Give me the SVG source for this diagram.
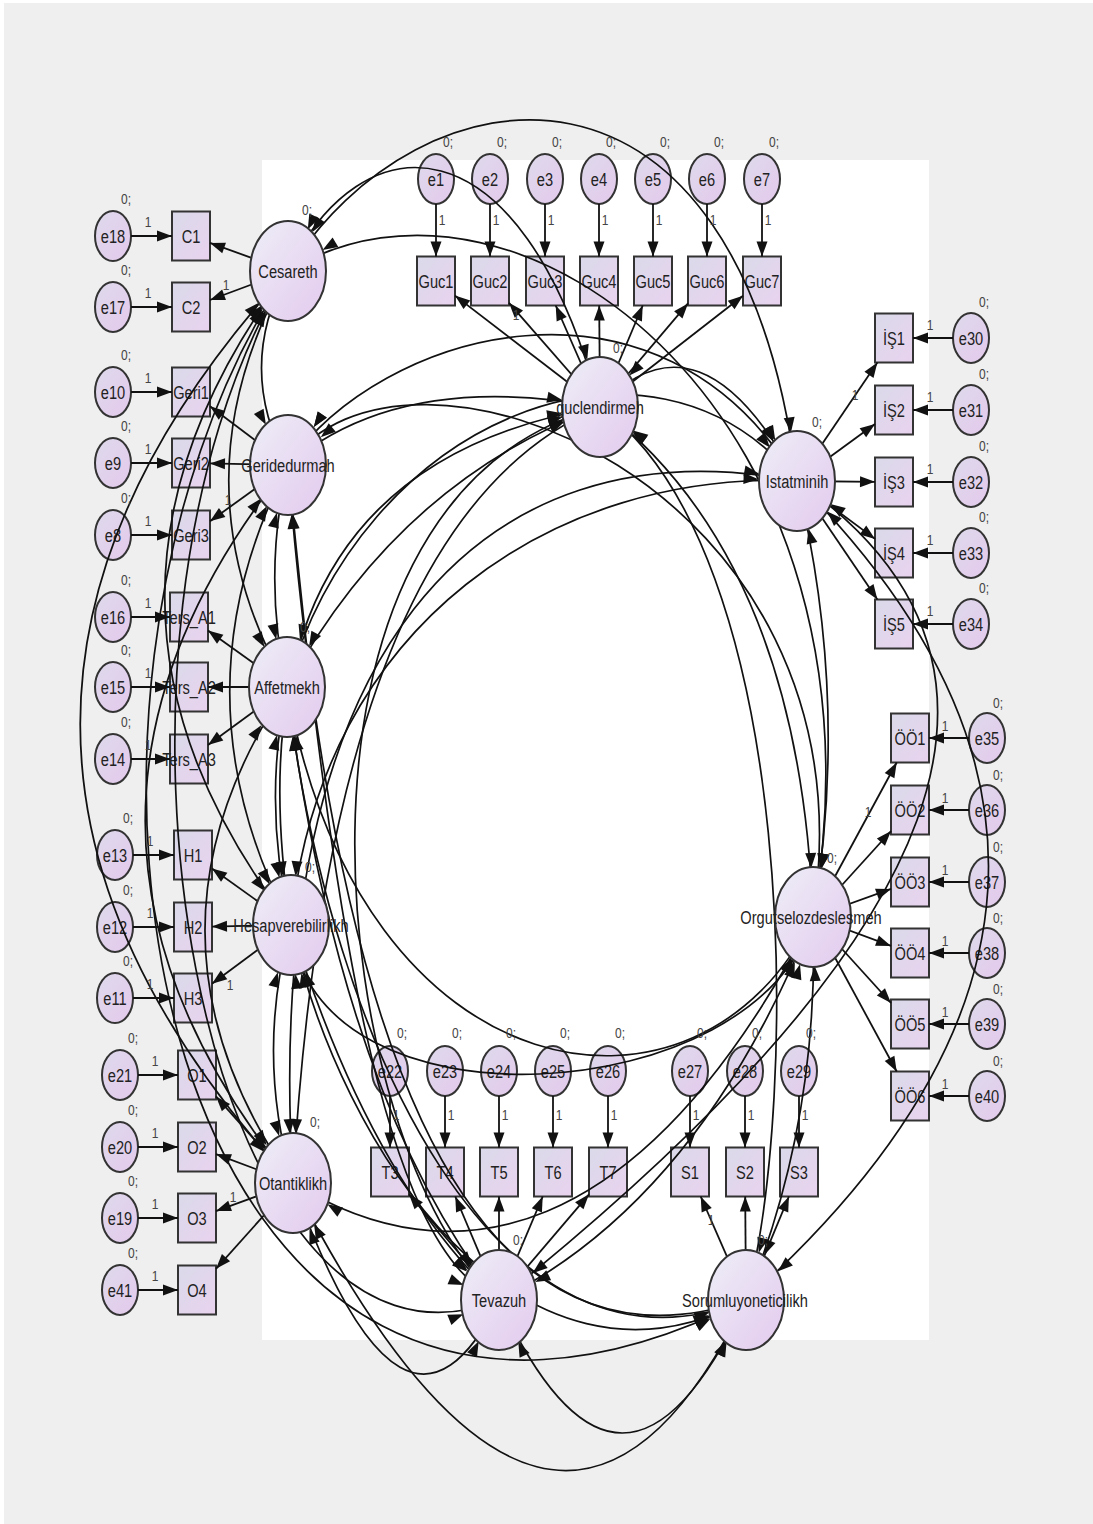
<svg xmlns="http://www.w3.org/2000/svg" width="1093" height="1524" viewBox="0 0 1093 1524">
<defs>
<linearGradient id="gL" x1="0" y1="0" x2="1" y2="1"><stop offset="0" stop-color="#eeeef7"/><stop offset="1" stop-color="#e3caee"/></linearGradient>
<linearGradient id="gE" x1="0" y1="0" x2="1" y2="1"><stop offset="0" stop-color="#dedaec"/><stop offset="1" stop-color="#e4c9ec"/></linearGradient>
<linearGradient id="gR" x1="0" y1="0" x2="1" y2="1"><stop offset="0" stop-color="#dadaea"/><stop offset="1" stop-color="#e9d2ee"/></linearGradient>
<marker id="ar" markerUnits="userSpaceOnUse" markerWidth="1" markerHeight="1" refX="0" refY="0" orient="auto" overflow="visible"><path d="M0 0 L-15 -5.5 L-15 5.5 Z" fill="#111"/></marker>
<marker id="m38" markerUnits="userSpaceOnUse" markerWidth="1" markerHeight="1" refX="38.5" refY="0" orient="auto-start-reverse" overflow="visible"><path d="M0 0 L-15 -5.5 L-15 5.5 Z" fill="#111"/></marker>
<marker id="m40" markerUnits="userSpaceOnUse" markerWidth="1" markerHeight="1" refX="40.5" refY="0" orient="auto-start-reverse" overflow="visible"><path d="M0 0 L-15 -5.5 L-15 5.5 Z" fill="#111"/></marker>
<marker id="m43" markerUnits="userSpaceOnUse" markerWidth="1" markerHeight="1" refX="43" refY="0" orient="auto-start-reverse" overflow="visible"><path d="M0 0 L-15 -5.5 L-15 5.5 Z" fill="#111"/></marker>
<marker id="m46" markerUnits="userSpaceOnUse" markerWidth="1" markerHeight="1" refX="46" refY="0" orient="auto-start-reverse" overflow="visible"><path d="M0 0 L-15 -5.5 L-15 5.5 Z" fill="#111"/></marker>
<marker id="m49" markerUnits="userSpaceOnUse" markerWidth="1" markerHeight="1" refX="49" refY="0" orient="auto-start-reverse" overflow="visible"><path d="M0 0 L-15 -5.5 L-15 5.5 Z" fill="#111"/></marker>
</defs>
<style>
.cv{fill:none;stroke:#111;stroke-width:1.7}
.ld{fill:none;stroke:#111;stroke-width:1.8;marker-end:url(#ar)}
.lat{fill:url(#gL);stroke:#333;stroke-width:2}
.err{fill:url(#gE);stroke:#333;stroke-width:2}
.ind{fill:url(#gR);stroke:#333;stroke-width:2}
.t{font-family:"Liberation Sans",Arial,sans-serif;font-size:19px;fill:#222;text-anchor:middle}
.s{font-family:"Liberation Sans",Arial,sans-serif;font-size:15px;fill:#444;text-anchor:middle}
</style>
<rect x="0" y="0" width="1093" height="1524" fill="#ffffff"/>
<rect x="4" y="3" width="1089" height="1521" fill="#efefef"/>
<rect x="262" y="160" width="667" height="1180" fill="#ffffff"/>

<g id="C1"><rect class="ind" x="172" y="211.5" width="38" height="49"/><text class="t" transform="matrix(.77 0 0 1 191 243)">C1</text></g>
<g id="C2"><rect class="ind" x="172" y="282.5" width="38" height="49"/><text class="t" transform="matrix(.77 0 0 1 191 314)">C2</text></g>
<g id="Geri1"><rect class="ind" x="172" y="367.5" width="38" height="49"/><text class="t" transform="matrix(.77 0 0 1 191 399)">Geri1</text></g>
<g id="Geri2"><rect class="ind" x="172" y="438.5" width="38" height="49"/><text class="t" transform="matrix(.77 0 0 1 191 470)">Geri2</text></g>
<g id="Geri3"><rect class="ind" x="172" y="510.5" width="38" height="49"/><text class="t" transform="matrix(.77 0 0 1 191 542)">Geri3</text></g>
<g id="Ters_A1"><rect class="ind" x="170" y="592.5" width="38" height="49"/><text class="t" transform="matrix(.77 0 0 1 189 624)">Ters_A1</text></g>
<g id="Ters_A2"><rect class="ind" x="170" y="662.5" width="38" height="49"/><text class="t" transform="matrix(.77 0 0 1 189 694)">Ters_A2</text></g>
<g id="Ters_A3"><rect class="ind" x="170" y="734.5" width="38" height="49"/><text class="t" transform="matrix(.77 0 0 1 189 766)">Ters_A3</text></g>
<g id="H1"><rect class="ind" x="174" y="830.5" width="38" height="49"/><text class="t" transform="matrix(.77 0 0 1 193 862)">H1</text></g>
<g id="H2"><rect class="ind" x="174" y="902.5" width="38" height="49"/><text class="t" transform="matrix(.77 0 0 1 193 934)">H2</text></g>
<g id="H3"><rect class="ind" x="174" y="973.5" width="38" height="49"/><text class="t" transform="matrix(.77 0 0 1 193 1005)">H3</text></g>
<g id="O1"><rect class="ind" x="178" y="1050.5" width="38" height="49"/><text class="t" transform="matrix(.77 0 0 1 197 1082)">O1</text></g>
<g id="O2"><rect class="ind" x="178" y="1122.5" width="38" height="49"/><text class="t" transform="matrix(.77 0 0 1 197 1154)">O2</text></g>
<g id="O3"><rect class="ind" x="178" y="1193.5" width="38" height="49"/><text class="t" transform="matrix(.77 0 0 1 197 1225)">O3</text></g>
<g id="O4"><rect class="ind" x="178" y="1265.5" width="38" height="49"/><text class="t" transform="matrix(.77 0 0 1 197 1297)">O4</text></g>

<g id="e18"><ellipse class="err" cx="113" cy="236" rx="18" ry="25"/><text class="t" transform="matrix(.77 0 0 1 113 243)">e18</text></g>
<g id="e17"><ellipse class="err" cx="113" cy="307" rx="18" ry="25"/><text class="t" transform="matrix(.77 0 0 1 113 314)">e17</text></g>
<g id="e10"><ellipse class="err" cx="113" cy="392" rx="18" ry="25"/><text class="t" transform="matrix(.77 0 0 1 113 399)">e10</text></g>
<g id="e9"><ellipse class="err" cx="113" cy="463" rx="18" ry="25"/><text class="t" transform="matrix(.77 0 0 1 113 470)">e9</text></g>
<g id="e8"><ellipse class="err" cx="113" cy="535" rx="18" ry="25"/><text class="t" transform="matrix(.77 0 0 1 113 542)">e8</text></g>
<g id="e16"><ellipse class="err" cx="113" cy="617" rx="18" ry="25"/><text class="t" transform="matrix(.77 0 0 1 113 624)">e16</text></g>
<g id="e15"><ellipse class="err" cx="113" cy="687" rx="18" ry="25"/><text class="t" transform="matrix(.77 0 0 1 113 694)">e15</text></g>
<g id="e14"><ellipse class="err" cx="113" cy="759" rx="18" ry="25"/><text class="t" transform="matrix(.77 0 0 1 113 766)">e14</text></g>
<g id="e13"><ellipse class="err" cx="115" cy="855" rx="18" ry="25"/><text class="t" transform="matrix(.77 0 0 1 115 862)">e13</text></g>
<g id="e12"><ellipse class="err" cx="115" cy="927" rx="18" ry="25"/><text class="t" transform="matrix(.77 0 0 1 115 934)">e12</text></g>
<g id="e11"><ellipse class="err" cx="115" cy="998" rx="18" ry="25"/><text class="t" transform="matrix(.77 0 0 1 115 1005)">e11</text></g>
<g id="e21"><ellipse class="err" cx="120" cy="1075" rx="18" ry="25"/><text class="t" transform="matrix(.77 0 0 1 120 1082)">e21</text></g>
<g id="e20"><ellipse class="err" cx="120" cy="1147" rx="18" ry="25"/><text class="t" transform="matrix(.77 0 0 1 120 1154)">e20</text></g>
<g id="e19"><ellipse class="err" cx="120" cy="1218" rx="18" ry="25"/><text class="t" transform="matrix(.77 0 0 1 120 1225)">e19</text></g>
<g id="e41"><ellipse class="err" cx="120" cy="1290" rx="18" ry="25"/><text class="t" transform="matrix(.77 0 0 1 120 1297)">e41</text></g>

<g id="Guc1"><rect class="ind" x="417" y="256.5" width="38" height="49"/><text class="t" transform="matrix(.77 0 0 1 436 288)">Guc1</text></g>
<g id="Guc2"><rect class="ind" x="471" y="256.5" width="38" height="49"/><text class="t" transform="matrix(.77 0 0 1 490 288)">Guc2</text></g>
<g id="Guc3"><rect class="ind" x="526" y="256.5" width="38" height="49"/><text class="t" transform="matrix(.77 0 0 1 545 288)">Guc3</text></g>
<g id="Guc4"><rect class="ind" x="580" y="256.5" width="38" height="49"/><text class="t" transform="matrix(.77 0 0 1 599 288)">Guc4</text></g>
<g id="Guc5"><rect class="ind" x="634" y="256.5" width="38" height="49"/><text class="t" transform="matrix(.77 0 0 1 653 288)">Guc5</text></g>
<g id="Guc6"><rect class="ind" x="688" y="256.5" width="38" height="49"/><text class="t" transform="matrix(.77 0 0 1 707 288)">Guc6</text></g>
<g id="Guc7"><rect class="ind" x="743" y="256.5" width="38" height="49"/><text class="t" transform="matrix(.77 0 0 1 762 288)">Guc7</text></g>
<g id="e1"><ellipse class="err" cx="436" cy="179" rx="18" ry="25"/><text class="t" transform="matrix(.77 0 0 1 436 186)">e1</text></g>
<g id="e2"><ellipse class="err" cx="490" cy="179" rx="18" ry="25"/><text class="t" transform="matrix(.77 0 0 1 490 186)">e2</text></g>
<g id="e3"><ellipse class="err" cx="545" cy="179" rx="18" ry="25"/><text class="t" transform="matrix(.77 0 0 1 545 186)">e3</text></g>
<g id="e4"><ellipse class="err" cx="599" cy="179" rx="18" ry="25"/><text class="t" transform="matrix(.77 0 0 1 599 186)">e4</text></g>
<g id="e5"><ellipse class="err" cx="653" cy="179" rx="18" ry="25"/><text class="t" transform="matrix(.77 0 0 1 653 186)">e5</text></g>
<g id="e6"><ellipse class="err" cx="707" cy="179" rx="18" ry="25"/><text class="t" transform="matrix(.77 0 0 1 707 186)">e6</text></g>
<g id="e7"><ellipse class="err" cx="762" cy="179" rx="18" ry="25"/><text class="t" transform="matrix(.77 0 0 1 762 186)">e7</text></g>

<g id="IS1"><rect class="ind" x="875" y="313.5" width="38" height="49"/><text class="t" transform="matrix(.77 0 0 1 894 345)">İŞ1</text></g>
<g id="IS2"><rect class="ind" x="875" y="385.5" width="38" height="49"/><text class="t" transform="matrix(.77 0 0 1 894 417)">İŞ2</text></g>
<g id="IS3"><rect class="ind" x="875" y="457.5" width="38" height="49"/><text class="t" transform="matrix(.77 0 0 1 894 489)">İŞ3</text></g>
<g id="IS4"><rect class="ind" x="875" y="528.5" width="38" height="49"/><text class="t" transform="matrix(.77 0 0 1 894 560)">İŞ4</text></g>
<g id="IS5"><rect class="ind" x="875" y="599.5" width="38" height="49"/><text class="t" transform="matrix(.77 0 0 1 894 631)">İŞ5</text></g>
<g id="e30"><ellipse class="err" cx="971" cy="338" rx="18" ry="25"/><text class="t" transform="matrix(.77 0 0 1 971 345)">e30</text></g>
<g id="e31"><ellipse class="err" cx="971" cy="410" rx="18" ry="25"/><text class="t" transform="matrix(.77 0 0 1 971 417)">e31</text></g>
<g id="e32"><ellipse class="err" cx="971" cy="482" rx="18" ry="25"/><text class="t" transform="matrix(.77 0 0 1 971 489)">e32</text></g>
<g id="e33"><ellipse class="err" cx="971" cy="553" rx="18" ry="25"/><text class="t" transform="matrix(.77 0 0 1 971 560)">e33</text></g>
<g id="e34"><ellipse class="err" cx="971" cy="624" rx="18" ry="25"/><text class="t" transform="matrix(.77 0 0 1 971 631)">e34</text></g>

<g id="OO1"><rect class="ind" x="891" y="713.5" width="38" height="49"/><text class="t" transform="matrix(.77 0 0 1 910 745)">ÖÖ1</text></g>
<g id="OO2"><rect class="ind" x="891" y="785.5" width="38" height="49"/><text class="t" transform="matrix(.77 0 0 1 910 817)">ÖÖ2</text></g>
<g id="OO3"><rect class="ind" x="891" y="857.5" width="38" height="49"/><text class="t" transform="matrix(.77 0 0 1 910 889)">ÖÖ3</text></g>
<g id="OO4"><rect class="ind" x="891" y="928.5" width="38" height="49"/><text class="t" transform="matrix(.77 0 0 1 910 960)">ÖÖ4</text></g>
<g id="OO5"><rect class="ind" x="891" y="999.5" width="38" height="49"/><text class="t" transform="matrix(.77 0 0 1 910 1031)">ÖÖ5</text></g>
<g id="OO6"><rect class="ind" x="891" y="1071.5" width="38" height="49"/><text class="t" transform="matrix(.77 0 0 1 910 1103)">ÖÖ6</text></g>
<g id="e35"><ellipse class="err" cx="987" cy="738" rx="18" ry="25"/><text class="t" transform="matrix(.77 0 0 1 987 745)">e35</text></g>
<g id="e36"><ellipse class="err" cx="987" cy="810" rx="18" ry="25"/><text class="t" transform="matrix(.77 0 0 1 987 817)">e36</text></g>
<g id="e37"><ellipse class="err" cx="987" cy="882" rx="18" ry="25"/><text class="t" transform="matrix(.77 0 0 1 987 889)">e37</text></g>
<g id="e38"><ellipse class="err" cx="987" cy="953" rx="18" ry="25"/><text class="t" transform="matrix(.77 0 0 1 987 960)">e38</text></g>
<g id="e39"><ellipse class="err" cx="987" cy="1024" rx="18" ry="25"/><text class="t" transform="matrix(.77 0 0 1 987 1031)">e39</text></g>
<g id="e40"><ellipse class="err" cx="987" cy="1096" rx="18" ry="25"/><text class="t" transform="matrix(.77 0 0 1 987 1103)">e40</text></g>

<g id="T3"><rect class="ind" x="371" y="1147.5" width="38" height="49"/><text class="t" transform="matrix(.77 0 0 1 390 1179)">T3</text></g>
<g id="T4"><rect class="ind" x="426" y="1147.5" width="38" height="49"/><text class="t" transform="matrix(.77 0 0 1 445 1179)">T4</text></g>
<g id="T5"><rect class="ind" x="480" y="1147.5" width="38" height="49"/><text class="t" transform="matrix(.77 0 0 1 499 1179)">T5</text></g>
<g id="T6"><rect class="ind" x="534" y="1147.5" width="38" height="49"/><text class="t" transform="matrix(.77 0 0 1 553 1179)">T6</text></g>
<g id="T7"><rect class="ind" x="589" y="1147.5" width="38" height="49"/><text class="t" transform="matrix(.77 0 0 1 608 1179)">T7</text></g>
<g id="S1"><rect class="ind" x="671" y="1147.5" width="38" height="49"/><text class="t" transform="matrix(.77 0 0 1 690 1179)">S1</text></g>
<g id="S2"><rect class="ind" x="726" y="1147.5" width="38" height="49"/><text class="t" transform="matrix(.77 0 0 1 745 1179)">S2</text></g>
<g id="S3"><rect class="ind" x="780" y="1147.5" width="38" height="49"/><text class="t" transform="matrix(.77 0 0 1 799 1179)">S3</text></g>
<g id="e22"><ellipse class="err" cx="390" cy="1071" rx="18" ry="25"/><text class="t" transform="matrix(.77 0 0 1 390 1078)">e22</text></g>
<g id="e23"><ellipse class="err" cx="445" cy="1071" rx="18" ry="25"/><text class="t" transform="matrix(.77 0 0 1 445 1078)">e23</text></g>
<g id="e24"><ellipse class="err" cx="499" cy="1071" rx="18" ry="25"/><text class="t" transform="matrix(.77 0 0 1 499 1078)">e24</text></g>
<g id="e25"><ellipse class="err" cx="553" cy="1071" rx="18" ry="25"/><text class="t" transform="matrix(.77 0 0 1 553 1078)">e25</text></g>
<g id="e26"><ellipse class="err" cx="608" cy="1071" rx="18" ry="25"/><text class="t" transform="matrix(.77 0 0 1 608 1078)">e26</text></g>
<g id="e27"><ellipse class="err" cx="690" cy="1071" rx="18" ry="25"/><text class="t" transform="matrix(.77 0 0 1 690 1078)">e27</text></g>
<g id="e28"><ellipse class="err" cx="745" cy="1071" rx="18" ry="25"/><text class="t" transform="matrix(.77 0 0 1 745 1078)">e28</text></g>
<g id="e29"><ellipse class="err" cx="799" cy="1071" rx="18" ry="25"/><text class="t" transform="matrix(.77 0 0 1 799 1078)">e29</text></g>

<g id="connectors">
<path class="cv" d="M288 271 C360 120 520 110 600 407" marker-start="url(#m46)" marker-end="url(#m49)"/>
<path class="cv" d="M288 271 C420 60 740 20 797 481" marker-start="url(#m46)" marker-end="url(#m49)"/>
<path class="cv" d="M288 271 C520 130 900 420 813 917" marker-start="url(#m40)" marker-end="url(#m49)"/>
<path class="cv" d="M288 271 C0 700 150 1600 746 1300" marker-start="url(#m46)" marker-end="url(#m40)"/>
<path class="cv" d="M288 271 C60 640 200 1420 499 1300" marker-start="url(#m46)" marker-end="url(#m38)"/>
<path class="cv" d="M288 271 Q-130 727 293 1183" marker-start="url(#m43)" marker-end="url(#m43)"/>
<path class="cv" d="M288 271 Q40 600 291 925" marker-start="url(#m43)" marker-end="url(#m43)"/>
<path class="cv" d="M288 271 Q170 480 287 687" marker-start="url(#m46)" marker-end="url(#m46)"/>
<path class="cv" d="M288 271 Q235 368 288 465" marker-start="url(#m46)" marker-end="url(#m46)"/>
<path class="cv" d="M288 465 Q400 370 600 407" marker-start="url(#m43)" marker-end="url(#m38)"/>
<path class="cv" d="M288 465 C380 330 660 250 797 481" marker-start="url(#m46)" marker-end="url(#m46)"/>
<path class="cv" d="M288 465 C400 300 880 480 813 917" marker-start="url(#m46)" marker-end="url(#m49)"/>
<path class="cv" d="M288 465 C330 1000 450 1400 746 1300" marker-start="url(#m49)" marker-end="url(#m38)"/>
<path class="cv" d="M288 465 C330 900 380 1250 499 1300" marker-start="url(#m49)" marker-end="url(#m38)"/>
<path class="cv" d="M288 465 Q0 824 293 1183" marker-start="url(#m43)" marker-end="url(#m43)"/>
<path class="cv" d="M288 465 Q170 695 291 925" marker-start="url(#m46)" marker-end="url(#m46)"/>
<path class="cv" d="M288 465 Q262 576 287 687" marker-start="url(#m49)" marker-end="url(#m49)"/>
<path class="cv" d="M287 687 Q400 480 600 407" marker-start="url(#m46)" marker-end="url(#m38)"/>
<path class="cv" d="M287 687 C360 420 650 300 797 481" marker-start="url(#m49)" marker-end="url(#m43)"/>
<path class="cv" d="M287 687 C360 1100 700 1150 813 917" marker-start="url(#m49)" marker-end="url(#m46)"/>
<path class="cv" d="M287 687 C330 1050 500 1400 746 1300" marker-start="url(#m49)" marker-end="url(#m40)"/>
<path class="cv" d="M287 687 Q340 1100 499 1300" marker-start="url(#m49)" marker-end="url(#m43)"/>
<path class="cv" d="M287 687 Q120 935 293 1183" marker-start="url(#m46)" marker-end="url(#m46)"/>
<path class="cv" d="M287 687 Q262 806 291 925" marker-start="url(#m49)" marker-end="url(#m49)"/>
<path class="cv" d="M291 925 Q220 470 600 407" marker-start="url(#m49)" marker-end="url(#m38)"/>
<path class="cv" d="M291 925 C320 620 560 470 797 481" marker-start="url(#m49)" marker-end="url(#m38)"/>
<path class="cv" d="M291 925 C310 1140 760 1110 813 917" marker-start="url(#m49)" marker-end="url(#m49)"/>
<path class="cv" d="M291 925 C340 1150 520 1420 746 1300" marker-start="url(#m49)" marker-end="url(#m40)"/>
<path class="cv" d="M291 925 Q370 1180 499 1300" marker-start="url(#m49)" marker-end="url(#m43)"/>
<path class="cv" d="M291 925 Q255 1054 293 1183" marker-start="url(#m49)" marker-end="url(#m49)"/>
<path class="cv" d="M293 1183 Q330 520 600 407" marker-start="url(#m49)" marker-end="url(#m38)"/>
<path class="cv" d="M293 1183 C260 650 480 420 797 481" marker-start="url(#m49)" marker-end="url(#m38)"/>
<path class="cv" d="M293 1183 C450 1280 640 1250 813 917" marker-start="url(#m40)" marker-end="url(#m46)"/>
<path class="cv" d="M293 1183 Q554 1692 746 1300" marker-start="url(#m46)" marker-end="url(#m46)"/>
<path class="cv" d="M293 1183 Q404 1493 499 1300" marker-start="url(#m49)" marker-end="url(#m46)"/>
<path class="cv" d="M499 1300 C330 1150 250 500 600 407" marker-start="url(#m43)" marker-end="url(#m38)"/>
<path class="cv" d="M499 1300 Q1186 750 797 481" marker-start="url(#m43)" marker-end="url(#m40)"/>
<path class="cv" d="M499 1300 Q700 1200 813 917" marker-start="url(#m40)" marker-end="url(#m49)"/>
<path class="cv" d="M499 1300 Q622 1566 746 1300" marker-start="url(#m46)" marker-end="url(#m46)"/>
<path class="cv" d="M746 1300 C800 1100 800 550 600 407" marker-start="url(#m49)" marker-end="url(#m40)"/>
<path class="cv" d="M746 1300 Q1204 890 797 481" marker-start="url(#m43)" marker-end="url(#m43)"/>
<path class="cv" d="M746 1300 Q820 1120 813 917" marker-start="url(#m49)" marker-end="url(#m49)"/>
<path class="cv" d="M813 917 Q800 560 600 407" marker-start="url(#m49)" marker-end="url(#m40)"/>
<path class="cv" d="M813 917 Q850 700 797 481" marker-start="url(#m49)" marker-end="url(#m49)"/>
<path class="cv" d="M600 407 Q700 300 797 481" marker-start="url(#m43)" marker-end="url(#m46)"/>

<path class="ld" d="M288 271 L210 242.9"/>
<path class="ld" d="M288 271 L210 300"/>
<path class="ld" d="M288 465 L210 406.3"/>
<path class="ld" d="M288 465 L210 463.4"/>
<path class="ld" d="M288 465 L210 521.3"/>
<path class="ld" d="M287 687 L208 630.6"/>
<path class="ld" d="M287 687 L208 687"/>
<path class="ld" d="M287 687 L208 745"/>
<path class="ld" d="M291 925 L212 868.6"/>
<path class="ld" d="M291 925 L212 926.6"/>
<path class="ld" d="M291 925 L212 983.8"/>
<path class="ld" d="M293 1183 L216 1096.4"/>
<path class="ld" d="M293 1183 L216 1154.1"/>
<path class="ld" d="M293 1183 L216 1211.1"/>
<path class="ld" d="M293 1183 L216 1268.8"/>
<path class="ld" d="M600 407 L455 295.6"/>
<path class="ld" d="M600 407 L509 302.8"/>
<path class="ld" d="M600 407 L555.7 305.5"/>
<path class="ld" d="M600 407 L599.2 305.5"/>
<path class="ld" d="M600 407 L642.7 305.5"/>
<path class="ld" d="M600 407 L688 303.4"/>
<path class="ld" d="M600 407 L743 295.8"/>
<path class="ld" d="M797 481 L877.4 362.5"/>
<path class="ld" d="M797 481 L875 423.9"/>
<path class="ld" d="M797 481 L875 481.8"/>
<path class="ld" d="M797 481 L875 538.9"/>
<path class="ld" d="M797 481 L877.4 599.5"/>
<path class="ld" d="M813 917 L896.7 762.5"/>
<path class="ld" d="M813 917 L891 831"/>
<path class="ld" d="M813 917 L891 888.9"/>
<path class="ld" d="M813 917 L891 945.9"/>
<path class="ld" d="M813 917 L891 1003"/>
<path class="ld" d="M813 917 L896.7 1071.5"/>
<path class="ld" d="M499 1300 L409 1194.3"/>
<path class="ld" d="M499 1300 L455.3 1196.5"/>
<path class="ld" d="M499 1300 L499 1196.5"/>
<path class="ld" d="M499 1300 L542.7 1196.5"/>
<path class="ld" d="M499 1300 L589 1194.3"/>
<path class="ld" d="M746 1300 L700.7 1196.5"/>
<path class="ld" d="M746 1300 L745.2 1196.5"/>
<path class="ld" d="M746 1300 L788.9 1196.5"/>

<path class="ld" d="M131 236 H172"/>
<path class="ld" d="M131 307 H172"/>
<path class="ld" d="M131 392 H172"/>
<path class="ld" d="M131 463 H172"/>
<path class="ld" d="M131 535 H172"/>
<path class="ld" d="M131 617 H170"/>
<path class="ld" d="M131 687 H170"/>
<path class="ld" d="M131 759 H170"/>
<path class="ld" d="M133 855 H174"/>
<path class="ld" d="M133 927 H174"/>
<path class="ld" d="M133 998 H174"/>
<path class="ld" d="M138 1075 H178"/>
<path class="ld" d="M138 1147 H178"/>
<path class="ld" d="M138 1218 H178"/>
<path class="ld" d="M138 1290 H178"/>
<path class="ld" d="M436 204 V256.5"/>
<path class="ld" d="M490 204 V256.5"/>
<path class="ld" d="M545 204 V256.5"/>
<path class="ld" d="M599 204 V256.5"/>
<path class="ld" d="M653 204 V256.5"/>
<path class="ld" d="M707 204 V256.5"/>
<path class="ld" d="M762 204 V256.5"/>
<path class="ld" d="M953 338 H913"/>
<path class="ld" d="M953 410 H913"/>
<path class="ld" d="M953 482 H913"/>
<path class="ld" d="M953 553 H913"/>
<path class="ld" d="M953 624 H913"/>
<path class="ld" d="M969 738 H929"/>
<path class="ld" d="M969 810 H929"/>
<path class="ld" d="M969 882 H929"/>
<path class="ld" d="M969 953 H929"/>
<path class="ld" d="M969 1024 H929"/>
<path class="ld" d="M969 1096 H929"/>
<path class="ld" d="M390 1096 V1147.5"/>
<path class="ld" d="M445 1096 V1147.5"/>
<path class="ld" d="M499 1096 V1147.5"/>
<path class="ld" d="M553 1096 V1147.5"/>
<path class="ld" d="M608 1096 V1147.5"/>
<path class="ld" d="M690 1096 V1147.5"/>
<path class="ld" d="M745 1096 V1147.5"/>
<path class="ld" d="M799 1096 V1147.5"/>
</g>

<g id="Cesareth"><ellipse class="lat" cx="288" cy="271" rx="38" ry="50"/><text class="t" transform="matrix(.77 0 0 1 288 278)">Cesareth</text></g>
<g id="Geridedurmah"><ellipse class="lat" cx="288" cy="465" rx="38" ry="50"/><text class="t" transform="matrix(.77 0 0 1 288 472)">Geridedurmah</text></g>
<g id="Affetmekh"><ellipse class="lat" cx="287" cy="687" rx="38" ry="50"/><text class="t" transform="matrix(.77 0 0 1 287 694)">Affetmekh</text></g>
<g id="Hesapverebilirlikh"><ellipse class="lat" cx="291" cy="925" rx="38" ry="50"/><text class="t" transform="matrix(.77 0 0 1 291 932)">Hesapverebilirlikh</text></g>
<g id="Otantiklikh"><ellipse class="lat" cx="293" cy="1183" rx="38" ry="50"/><text class="t" transform="matrix(.77 0 0 1 293 1190)">Otantiklikh</text></g>
<g id="guclendirmeh"><ellipse class="lat" cx="600" cy="407" rx="38" ry="50"/><text class="t" transform="matrix(.77 0 0 1 600 414)">guclendirmeh</text></g>
<g id="Istatminih"><ellipse class="lat" cx="797" cy="481" rx="38" ry="50"/><text class="t" transform="matrix(.77 0 0 1 797 488)">Istatminih</text></g>
<g id="Orgutselozdeslesmeh"><ellipse class="lat" cx="813" cy="917" rx="38" ry="50"/><text class="t" transform="matrix(.77 0 0 1 811 924)">Orgutselozdeslesmeh</text></g>
<g id="Tevazuh"><ellipse class="lat" cx="499" cy="1300" rx="38" ry="50"/><text class="t" transform="matrix(.77 0 0 1 499 1307)">Tevazuh</text></g>
<g id="Sorumluyoneticilikh"><ellipse class="lat" cx="746" cy="1300" rx="38" ry="50"/><text class="t" transform="matrix(.77 0 0 1 745 1307)">Sorumluyoneticilikh</text></g>

<g id="labels">
<text class="s" transform="matrix(.8 0 0 1 126 204)">0;</text>
<text class="s" transform="matrix(.8 0 0 1 126 275)">0;</text>
<text class="s" transform="matrix(.8 0 0 1 126 360)">0;</text>
<text class="s" transform="matrix(.8 0 0 1 126 431)">0;</text>
<text class="s" transform="matrix(.8 0 0 1 126 503)">0;</text>
<text class="s" transform="matrix(.8 0 0 1 126 585)">0;</text>
<text class="s" transform="matrix(.8 0 0 1 126 655)">0;</text>
<text class="s" transform="matrix(.8 0 0 1 126 727)">0;</text>
<text class="s" transform="matrix(.8 0 0 1 128 823)">0;</text>
<text class="s" transform="matrix(.8 0 0 1 128 895)">0;</text>
<text class="s" transform="matrix(.8 0 0 1 128 966)">0;</text>
<text class="s" transform="matrix(.8 0 0 1 133 1043)">0;</text>
<text class="s" transform="matrix(.8 0 0 1 133 1115)">0;</text>
<text class="s" transform="matrix(.8 0 0 1 133 1186)">0;</text>
<text class="s" transform="matrix(.8 0 0 1 133 1258)">0;</text>
<text class="s" transform="matrix(.8 0 0 1 448 147)">0;</text>
<text class="s" transform="matrix(.8 0 0 1 502 147)">0;</text>
<text class="s" transform="matrix(.8 0 0 1 557 147)">0;</text>
<text class="s" transform="matrix(.8 0 0 1 611 147)">0;</text>
<text class="s" transform="matrix(.8 0 0 1 665 147)">0;</text>
<text class="s" transform="matrix(.8 0 0 1 719 147)">0;</text>
<text class="s" transform="matrix(.8 0 0 1 774 147)">0;</text>
<text class="s" transform="matrix(.8 0 0 1 984 307)">0;</text>
<text class="s" transform="matrix(.8 0 0 1 984 379)">0;</text>
<text class="s" transform="matrix(.8 0 0 1 984 451)">0;</text>
<text class="s" transform="matrix(.8 0 0 1 984 522)">0;</text>
<text class="s" transform="matrix(.8 0 0 1 984 593)">0;</text>
<text class="s" transform="matrix(.8 0 0 1 998 708)">0;</text>
<text class="s" transform="matrix(.8 0 0 1 998 780)">0;</text>
<text class="s" transform="matrix(.8 0 0 1 998 852)">0;</text>
<text class="s" transform="matrix(.8 0 0 1 998 923)">0;</text>
<text class="s" transform="matrix(.8 0 0 1 998 994)">0;</text>
<text class="s" transform="matrix(.8 0 0 1 998 1066)">0;</text>
<text class="s" transform="matrix(.8 0 0 1 402 1038)">0;</text>
<text class="s" transform="matrix(.8 0 0 1 457 1038)">0;</text>
<text class="s" transform="matrix(.8 0 0 1 511 1038)">0;</text>
<text class="s" transform="matrix(.8 0 0 1 565 1038)">0;</text>
<text class="s" transform="matrix(.8 0 0 1 620 1038)">0;</text>
<text class="s" transform="matrix(.8 0 0 1 702 1038)">0;</text>
<text class="s" transform="matrix(.8 0 0 1 757 1038)">0;</text>
<text class="s" transform="matrix(.8 0 0 1 811 1038)">0;</text>
<text class="s" transform="matrix(.8 0 0 1 307 215)">0;</text>
<text class="s" transform="matrix(.8 0 0 1 305 632)">0;</text>
<text class="s" transform="matrix(.8 0 0 1 310 872)">0;</text>
<text class="s" transform="matrix(.8 0 0 1 315 1127)">0;</text>
<text class="s" transform="matrix(.8 0 0 1 618 353)">0;</text>
<text class="s" transform="matrix(.8 0 0 1 817 427)">0;</text>
<text class="s" transform="matrix(.8 0 0 1 832 863)">0;</text>
<text class="s" transform="matrix(.8 0 0 1 518 1245)">0;</text>
<text class="s" transform="matrix(.8 0 0 1 763 1245)">0;</text>

<text class="s" transform="matrix(.8 0 0 1 148 227)">1</text>
<text class="s" transform="matrix(.8 0 0 1 148 298)">1</text>
<text class="s" transform="matrix(.8 0 0 1 148 383)">1</text>
<text class="s" transform="matrix(.8 0 0 1 148 454)">1</text>
<text class="s" transform="matrix(.8 0 0 1 148 526)">1</text>
<text class="s" transform="matrix(.8 0 0 1 148 608)">1</text>
<text class="s" transform="matrix(.8 0 0 1 148 678)">1</text>
<text class="s" transform="matrix(.8 0 0 1 148 750)">1</text>
<text class="s" transform="matrix(.8 0 0 1 150 846)">1</text>
<text class="s" transform="matrix(.8 0 0 1 150 918)">1</text>
<text class="s" transform="matrix(.8 0 0 1 150 989)">1</text>
<text class="s" transform="matrix(.8 0 0 1 155 1066)">1</text>
<text class="s" transform="matrix(.8 0 0 1 155 1138)">1</text>
<text class="s" transform="matrix(.8 0 0 1 155 1209)">1</text>
<text class="s" transform="matrix(.8 0 0 1 155 1281)">1</text>
<text class="s" transform="matrix(.8 0 0 1 442 225)">1</text>
<text class="s" transform="matrix(.8 0 0 1 496 225)">1</text>
<text class="s" transform="matrix(.8 0 0 1 551 225)">1</text>
<text class="s" transform="matrix(.8 0 0 1 605 225)">1</text>
<text class="s" transform="matrix(.8 0 0 1 659 225)">1</text>
<text class="s" transform="matrix(.8 0 0 1 713 225)">1</text>
<text class="s" transform="matrix(.8 0 0 1 768 225)">1</text>
<text class="s" transform="matrix(.8 0 0 1 930 330)">1</text>
<text class="s" transform="matrix(.8 0 0 1 930 402)">1</text>
<text class="s" transform="matrix(.8 0 0 1 930 474)">1</text>
<text class="s" transform="matrix(.8 0 0 1 930 545)">1</text>
<text class="s" transform="matrix(.8 0 0 1 930 616)">1</text>
<text class="s" transform="matrix(.8 0 0 1 945 731)">1</text>
<text class="s" transform="matrix(.8 0 0 1 945 803)">1</text>
<text class="s" transform="matrix(.8 0 0 1 945 875)">1</text>
<text class="s" transform="matrix(.8 0 0 1 945 946)">1</text>
<text class="s" transform="matrix(.8 0 0 1 945 1017)">1</text>
<text class="s" transform="matrix(.8 0 0 1 945 1089)">1</text>
<text class="s" transform="matrix(.8 0 0 1 396 1120)">1</text>
<text class="s" transform="matrix(.8 0 0 1 451 1120)">1</text>
<text class="s" transform="matrix(.8 0 0 1 505 1120)">1</text>
<text class="s" transform="matrix(.8 0 0 1 559 1120)">1</text>
<text class="s" transform="matrix(.8 0 0 1 614 1120)">1</text>
<text class="s" transform="matrix(.8 0 0 1 696 1120)">1</text>
<text class="s" transform="matrix(.8 0 0 1 751 1120)">1</text>
<text class="s" transform="matrix(.8 0 0 1 805 1120)">1</text>
<text class="s" transform="matrix(.8 0 0 1 226 290)">1</text>
<text class="s" transform="matrix(.8 0 0 1 228 505)">1</text>
<text class="s" transform="matrix(.8 0 0 1 230 990)">1</text>
<text class="s" transform="matrix(.8 0 0 1 233 1202)">1</text>
<text class="s" transform="matrix(.8 0 0 1 516 320)">1</text>
<text class="s" transform="matrix(.8 0 0 1 855 400)">1</text>
<text class="s" transform="matrix(.8 0 0 1 868 817)">1</text>
<text class="s" transform="matrix(.8 0 0 1 711 1225)">1</text>
</g>
</svg>
